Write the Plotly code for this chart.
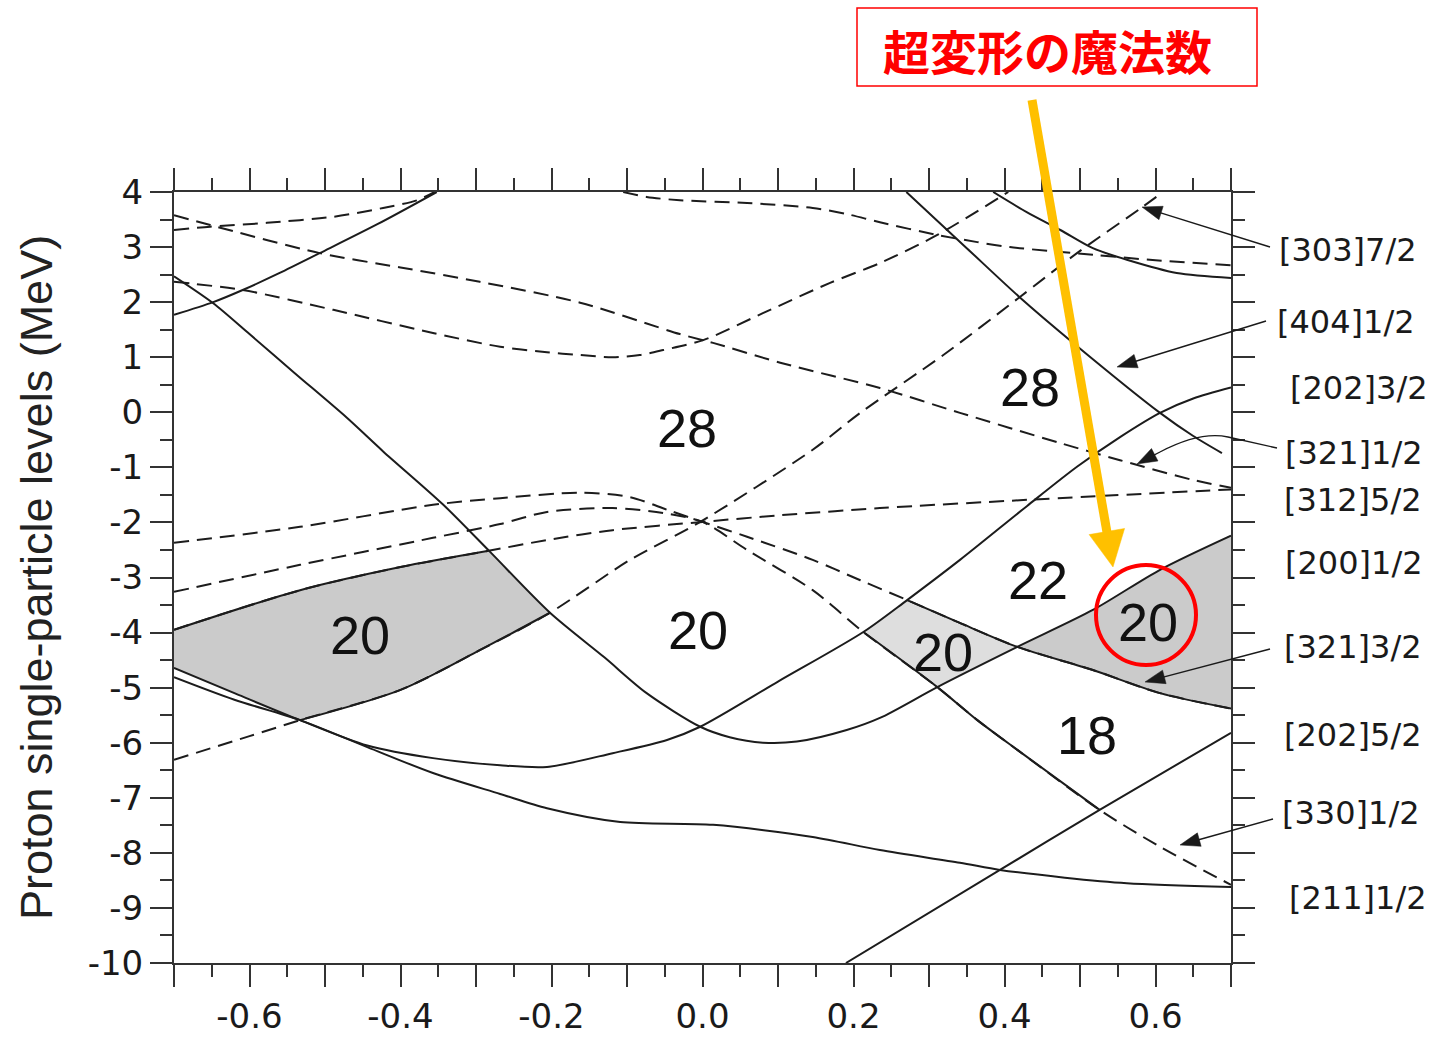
import numpy as np
import plotly.graph_objects as go

# ---------------- proton single-particle levels (MeV) vs deformation ----------------
# positive-parity levels (solid lines)
lvl_a_x = [-0.700, -0.648, -0.609, -0.560, -0.507, -0.430, -0.352]
lvl_a_y = [1.77, 2.00, 2.22, 2.53, 2.89, 3.42, 4.00]

lvl_b_x = [-0.700, -0.648, -0.600, -0.540, -0.471, -0.423, -0.344, -0.281, -0.202, -0.130,
           -0.074, -0.003, 0.036, 0.080, 0.125, 0.191, 0.235, 0.311, 0.417, 0.517, 0.606, 0.700]
lvl_b_y = [2.47, 1.98, 1.42, 0.71, -0.10, -0.71, -1.67, -2.54, -3.64, -4.45,
           -5.10, -5.71, -5.90, -6.00, -5.98, -5.77, -5.55, -4.99, -4.26, -3.59, -2.86, -2.24]

lvl_c_x = [-0.700, -0.620, -0.533, -0.444, -0.357, -0.268, -0.206, -0.119, -0.047, -0.003,
           0.100, 0.213, 0.271, 0.341, 0.430, 0.496, 0.553, 0.606, 0.650, 0.700]
lvl_c_y = [-4.64, -5.10, -5.59, -6.05, -6.28, -6.41, -6.44, -6.19, -5.95, -5.71,
           -4.89, -3.99, -3.41, -2.68, -1.70, -0.99, -0.45, -0.01, 0.25, 0.45]

lvl_d_x = [-0.700, -0.620, -0.533, -0.444, -0.357, -0.268, -0.206, -0.109, 0.014, 0.146,
           0.235, 0.341, 0.394, 0.480, 0.562, 0.700]
lvl_d_y = [-4.81, -5.22, -5.59, -6.08, -6.55, -6.93, -7.19, -7.44, -7.49, -7.71,
           -7.95, -8.18, -8.31, -8.45, -8.55, -8.62]

lvl_e_x = [0.270, 0.350, 0.420, 0.491, 0.606, 0.650, 0.688]
lvl_e_y = [4.00, 2.98, 2.09, 1.26, -0.01, -0.43, -0.74]

lvl_f_x = [0.385, 0.430, 0.474, 0.517, 0.562, 0.628, 0.700]
lvl_f_y = [4.00, 3.63, 3.31, 2.98, 2.77, 2.53, 2.44]

lvl_g_x = [0.190, 0.394, 0.526, 0.700]
lvl_g_y = [-10.00, -8.31, -7.22, -5.82]

# negative-parity levels (dashed lines)
dl_a_x = [-0.700, -0.652, -0.507, -0.400, -0.295, -0.162, -0.030, 0.014, 0.103, 0.235,
          0.341, 0.474, 0.553, 0.650, 0.700]
dl_a_y = [3.58, 3.40, 2.89, 2.63, 2.37, 1.99, 1.42, 1.26, 0.90, 0.44,
          -0.01, -0.56, -0.87, -1.23, -1.37]

dl_b_x = [-0.700, -0.652, -0.577, -0.489, -0.423, -0.378, -0.355]
dl_b_y = [3.31, 3.37, 3.44, 3.55, 3.71, 3.85, 4.00]

dl_c_x = [-0.700, -0.609, -0.489, -0.357, -0.268, -0.206, -0.162, -0.119, -0.083, -0.052,
          0.001, 0.080, 0.169, 0.235, 0.311, 0.405]
dl_c_y = [2.37, 2.22, 1.86, 1.44, 1.19, 1.09, 1.04, 1.00, 1.04, 1.13,
          1.31, 1.80, 2.35, 2.71, 3.22, 4.00]

dl_d_x = [-0.105, -0.074, -0.030, 0.059, 0.146, 0.191, 0.235, 0.311, 0.364, 0.407,
          0.517, 0.600, 0.700]
dl_d_y = [4.00, 3.91, 3.85, 3.80, 3.71, 3.60, 3.45, 3.22, 3.09, 3.00,
          2.86, 2.76, 2.67]

dl_e_x = [-0.700, -0.600, -0.533, -0.400, -0.295, -0.202, -0.096, -0.003, 0.146, 0.209,
          0.319, 0.420, 0.496, 0.583, 0.610]
dl_e_y = [-6.31, -5.88, -5.59, -5.04, -4.32, -3.64, -2.68, -1.99, -0.68, -0.01,
          1.04, 2.09, 2.89, 3.73, 4.00]

dl_f_x = [-0.700, -0.533, -0.357, -0.268, -0.162, -0.096, -0.045, 0.000, 0.059, 0.146,
          0.209, 0.271, 0.340, 0.417, 0.517, 0.606, 0.700]
dl_f_y = [-2.37, -2.08, -1.68, -1.56, -1.46, -1.54, -1.78, -1.99, -2.26, -2.68,
          -3.05, -3.41, -3.82, -4.26, -4.68, -5.10, -5.38]

dl_g_x = [-0.700, -0.533, -0.357, -0.268, -0.206, -0.119, -0.052, 0.000, 0.059, 0.146,
          0.213, 0.311, 0.364, 0.417, 0.526, 0.606, 0.700]
dl_g_y = [-3.26, -2.77, -2.28, -2.03, -1.81, -1.74, -1.83, -1.99, -2.50, -3.23,
          -3.99, -4.99, -5.59, -6.13, -7.22, -7.89, -8.58]

dl_h_x = [-0.700, -0.533, -0.400, -0.285, -0.206, -0.119, 0.000, 0.103, 0.235, 0.430, 0.700]
dl_h_y = [-3.95, -3.23, -2.81, -2.52, -2.32, -2.14, -1.99, -1.87, -1.74, -1.59, -1.40]

# shell-gap particle numbers written inside the diagram
gap_text = ["28", "28", "20", "20", "20", "22", "20", "18"]
gap_x = [-0.021, 0.434, -0.454, -0.006, 0.319, 0.444, 0.590, 0.509]
gap_y = [-0.29, 0.46, -4.04, -3.95, -4.35, -3.05, -3.81, -5.86]

# Nilsson labels on the right-hand side
level_names = ["[303]7/2", "[404]1/2", "[202]3/2", "[321]1/2", "[312]5/2",
               "[200]1/2", "[321]3/2", "[202]5/2", "[330]1/2", "[211]1/2"]

# axis ticks
x_major = [round(v, 2) for v in np.arange(-0.7, 0.701, 0.1)]
x_major_text = [("%.1f" % abs(v) if abs(v) < 1e-9 else "%.1f" % v) if round(v * 10) % 2 == 0 else ""
                for v in x_major]
x_minor = [round(v, 3) for v in np.arange(-0.65, 0.7, 0.1)]
y_major = list(range(-10, 5))
y_major_text = [str(v) for v in y_major]
y_minor = [v + 0.5 for v in range(-10, 4)]

# ---------------- page geometry ----------------
W, H = 1437, 1037
L, R, T, B = 174, 1231, 192, 963
X_RANGE = [-0.7, 0.7]
Y_RANGE = [-10.0, 4.0]

LINE = "#1c1c1c"
LW = 2.0
DASH = "15px,8px"
FRAME = "#333333"
SMOOTH = 0.8


def to_paper(px, py):
    return (px - L) / (R - L), (B - py) / (B - T)


def gap_region(lo, hi, upper, lower, n=1500):
    g = np.linspace(lo, hi, n)
    up = np.min([np.interp(g, cx, cy) for cx, cy in upper], axis=0)
    dn = np.max([np.interp(g, cx, cy) for cx, cy in lower], axis=0)
    keep = up >= dn
    g, up, dn = g[keep], up[keep], dn[keep]
    xs = np.concatenate([g, g[::-1], g[:1]])
    ys = np.concatenate([up, dn[::-1], up[:1]])
    return xs, ys


def part(xs, ys, lo, hi):
    sel = [(x, y) for x, y in zip(xs, ys) if lo - 1e-9 <= x <= hi + 1e-9]
    return [p[0] for p in sel], [p[1] for p in sel]


fig = go.Figure()

lvl_b = (lvl_b_x, lvl_b_y)
lvl_c = (lvl_c_x, lvl_c_y)
lvl_d = (lvl_d_x, lvl_d_y)
dl_e = (dl_e_x, dl_e_y)
dl_f = (dl_f_x, dl_f_y)
dl_g = (dl_g_x, dl_g_y)
dl_h = (dl_h_x, dl_h_y)

# shaded shell gaps bounded by the crossing levels
regions = [
    (gap_region(-0.7, -0.15, [dl_h, lvl_b], [lvl_c, lvl_d, dl_e]), "#cbcbcb"),
    (gap_region(0.15, 0.50, [lvl_c, dl_f], [lvl_b, dl_g]), "#dedede"),
    (gap_region(0.35, 0.70, [lvl_b], [dl_f]), "#cbcbcb"),
]
for (rx, ry), col in regions:
    fig.add_trace(go.Scatter(x=rx, y=ry, mode="lines", fill="toself", fillcolor=col,
                             line=dict(color=col, width=0), hoverinfo="skip"))

for xs, ys in [(dl_a_x, dl_a_y), (dl_b_x, dl_b_y), (dl_c_x, dl_c_y), (dl_d_x, dl_d_y),
               (dl_e_x, dl_e_y), (dl_f_x, dl_f_y), (dl_g_x, dl_g_y), (dl_h_x, dl_h_y)]:
    fig.add_trace(go.Scatter(x=xs, y=ys, mode="lines",
                             line=dict(color=LINE, width=LW, dash=DASH, shape="spline",
                                       smoothing=SMOOTH),
                             hoverinfo="skip"))

for xs, ys in [(lvl_a_x, lvl_a_y), (lvl_b_x, lvl_b_y), (lvl_c_x, lvl_c_y), (lvl_d_x, lvl_d_y),
               (lvl_e_x, lvl_e_y), (lvl_f_x, lvl_f_y), (lvl_g_x, lvl_g_y)]:
    fig.add_trace(go.Scatter(x=xs, y=ys, mode="lines",
                             line=dict(color=LINE, width=LW, shape="spline", smoothing=SMOOTH),
                             hoverinfo="skip"))

# gap edges that run along dashed levels are traced solid
for (xs, ys), lo, hi in [(dl_h, -0.700, -0.285), (dl_e, -0.533, -0.202),
                         (dl_f, 0.271, 0.700), (dl_g, 0.213, 0.526)]:
    px_, py_ = part(xs, ys, lo, hi)
    fig.add_trace(go.Scatter(x=px_, y=py_, mode="lines",
                             line=dict(color=LINE, width=LW, shape="spline", smoothing=SMOOTH),
                             hoverinfo="skip"))

annotations = []
for t, x, y in zip(gap_text, gap_x, gap_y):
    annotations.append(dict(x=x, y=y, xref="x", yref="y", text=t, showarrow=False,
                            font=dict(family="Liberation Sans", size=54, color="#111111"),
                            xanchor="center", yanchor="middle"))

label_pos = [(1277, 250), (1275, 322), (1288, 388), (1283, 453), (1282, 500),
             (1283, 563), (1282, 647), (1282, 735), (1280, 813), (1287, 898)]
for name, (lx, ly) in zip(level_names, label_pos):
    px, py = to_paper(lx, ly)
    annotations.append(dict(x=px, y=py, xref="paper", yref="paper", text=name, showarrow=False,
                            xanchor="left", yanchor="middle",
                            font=dict(family="DejaVu Sans", size=32, color="#1a1a1a")))

# boxed caption
cx, cy = to_paper(1047, 49)
annotations.append(dict(x=cx, y=cy, xref="paper", yref="paper", text="<b>超変形の魔法数</b>",
                        showarrow=False, xanchor="center", yanchor="middle",
                        font=dict(family="Noto Sans CJK JP", size=47, color="#ff0000")))

shapes = []


def path_of(points, close=False):
    s = ""
    for i, (px, py) in enumerate(points):
        qx, qy = to_paper(px, py)
        s += ("M" if i == 0 else "L") + "%.5f,%.5f " % (qx, qy)
    return s + ("Z" if close else "")


def add_arrow(tail, tip, color, width, head_len, head_half):
    (x0, y0), (x1, y1) = tail, tip
    dx, dy = x1 - x0, y1 - y0
    n = (dx * dx + dy * dy) ** 0.5
    ux, uy = dx / n, dy / n
    bx, by = x1 - ux * head_len, y1 - uy * head_len
    nx, ny = -uy, ux
    ex, ey = x1 - ux * head_len * 0.6, y1 - uy * head_len * 0.6
    shapes.append(dict(type="path", xref="paper", yref="paper",
                       path=path_of([(x0, y0), (ex, ey)]),
                       line=dict(color=color, width=width)))
    shapes.append(dict(type="path", xref="paper", yref="paper",
                       path=path_of([(x1, y1), (bx + nx * head_half, by + ny * head_half),
                                     (bx - nx * head_half, by - ny * head_half)], close=True),
                       fillcolor=color, line=dict(color=color, width=0.5)))


# leader arrows from the labels to their levels
for tail, tip in [((1270, 247), (1142, 207)), ((1266, 321), (1117, 367)),
                  ((1270, 649), (1145, 682)), ((1273, 819), (1180, 845))]:
    add_arrow(tail, tip, "#1a1a1a", 1.4, 20, 7)

# curved leader for [321]1/2
p0 = to_paper(1277, 448)
p1 = to_paper(1228, 437)
pc = to_paper(1200, 431)
p2 = to_paper(1160, 452)
shapes.append(dict(type="path", xref="paper", yref="paper",
                   path="M%.5f,%.5f L%.5f,%.5f Q%.5f,%.5f %.5f,%.5f" % (p0 + p1 + pc + p2),
                   line=dict(color="#1a1a1a", width=1.4)))
add_arrow((1160, 452), (1137, 464), "#1a1a1a", 1.4, 20, 7)

# highlight arrow, circle and caption box
add_arrow((1032, 100), (1113, 567), "#ffc000", 9, 36, 18)
c0 = to_paper(1096, 665)
c1 = to_paper(1196, 565)
shapes.append(dict(type="circle", xref="paper", yref="paper", x0=c0[0], y0=c0[1],
                   x1=c1[0], y1=c1[1], line=dict(color="#ff0000", width=4)))
b0 = to_paper(857, 86)
b1 = to_paper(1257, 8)
shapes.append(dict(type="rect", xref="paper", yref="paper", x0=b0[0], y0=b0[1],
                   x1=b1[0], y1=b1[1], line=dict(color="#ff0000", width=1.5)))

axis_common = dict(showline=True, linecolor=FRAME, linewidth=2, mirror="allticks",
                   ticks="outside", ticklen=22, tickwidth=2, tickcolor=FRAME,
                   showgrid=False, zeroline=False)

fig.update_layout(
    width=W, height=H,
    margin=dict(l=L, r=W - R, t=T, b=H - B, autoexpand=False),
    paper_bgcolor="white", plot_bgcolor="white",
    showlegend=False,
    xaxis=dict(range=X_RANGE, tickmode="array", tickvals=x_major, ticktext=x_major_text,
               minor=dict(tickmode="array", tickvals=x_minor, ticks="outside", ticklen=12,
                          tickwidth=2, tickcolor=FRAME),
               tickfont=dict(family="DejaVu Sans", size=34, color="#1a1a1a"),
               **axis_common),
    yaxis=dict(range=Y_RANGE, tickmode="array", tickvals=y_major, ticktext=y_major_text,
               minor=dict(tickmode="array", tickvals=y_minor, ticks="outside", ticklen=12,
                          tickwidth=2, tickcolor=FRAME),
               tickfont=dict(family="DejaVu Sans", size=34, color="#1a1a1a"),
               title=dict(text="Proton single-particle levels (MeV)", standoff=21,
                          font=dict(family="Liberation Sans", size=45, color="#222222")),
               **axis_common),
    annotations=annotations,
    shapes=shapes,
)

fig.write_html("out.html")
